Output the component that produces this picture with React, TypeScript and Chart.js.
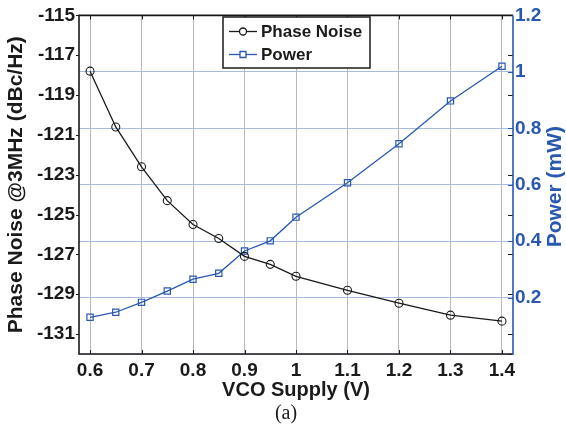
import React, { useEffect, useRef } from 'react';
import { Chart, registerables } from 'chart.js';

Chart.register(...registerables);

const supplyV = [0.6, 0.65, 0.7, 0.75, 0.8, 0.85, 0.9, 0.95, 1.0, 1.1, 1.2, 1.3, 1.4];
const phaseNoise = [-117.8, -120.6, -122.6, -124.3, -125.5, -126.2, -127.1, -127.5, -128.1, -128.8, -129.45, -130.05, -130.35];
const powerMW = [0.13, 0.148, 0.183, 0.223, 0.265, 0.286, 0.365, 0.401, 0.485, 0.607, 0.745, 0.897, 1.02];
const xTicks = [0.6, 0.7, 0.8, 0.9, 1.0, 1.1, 1.2, 1.3, 1.4];
const leftTicks = [-131, -129, -127, -125, -123, -121, -119, -117, -115];
const rightTicks = [0, 0.2, 0.4, 0.6, 0.8, 1.0, 1.2];
const rightTitle = 'Power (mW)';

const BLUE = '#2958b0';
const BLACK = '#1a1a1a';
const SANS = '"Liberation Sans", Arial, sans-serif';

const boxPlugin = {
  id: 'matlabBox',
  afterDraw(chart: any) {
    const { ctx, chartArea, scales } = chart;
    const { left, right, top, bottom } = chartArea;
    const line = (x1: number, y1: number, x2: number, y2: number) => {
      ctx.beginPath();
      ctx.moveTo(x1, y1);
      ctx.lineTo(x2, y2);
      ctx.stroke();
    };
    ctx.save();
    ctx.lineWidth = 1;
    ctx.strokeStyle = BLACK;
    xTicks.forEach((v) => {
      const px = Math.round(scales.x.getPixelForValue(v)) + 0.5;
      line(px, bottom, px, bottom - 4);
      line(px, top, px, top + 4);
    });
    leftTicks.forEach((v) => {
      const py = Math.round(scales.y.getPixelForValue(v)) + 0.5;
      line(left - 3, py, left, py);
      line(right - 5, py, right, py);
    });
    ctx.strokeStyle = BLUE;
    rightTicks.forEach((v) => {
      const py = Math.round(scales.y1.getPixelForValue(v)) + 0.5;
      line(right - 5, py, right, py);
    });
    // box
    ctx.lineWidth = 1.6;
    ctx.strokeStyle = BLACK;
    ctx.beginPath();
    ctx.moveTo(right, top);
    ctx.lineTo(left, top);
    ctx.lineTo(left, bottom);
    ctx.lineTo(right, bottom);
    ctx.stroke();
    ctx.strokeStyle = BLUE;
    line(right, top, right, bottom + 0.8);

    // right axis title (reads bottom-to-top)
    ctx.save();
    ctx.translate(555, (top + bottom) / 2 + 2);
    ctx.rotate(-Math.PI / 2);
    ctx.fillStyle = BLUE;
    ctx.font = `bold 21px ${SANS}`;
    ctx.textAlign = 'center';
    ctx.textBaseline = 'middle';
    ctx.fillText(rightTitle, 0, 0);
    ctx.restore();

    // legend
    const lx = 223, ly = 17, lw = 147, lh = 51;
    ctx.fillStyle = '#ffffff';
    ctx.fillRect(lx, ly, lw, lh);
    ctx.lineWidth = 1.5;
    ctx.strokeStyle = BLACK;
    ctx.strokeRect(lx, ly, lw, lh);
    const rows = [
      { label: 'Phase Noise', color: BLACK, y: 31.5, style: 'circle' },
      { label: 'Power', color: BLUE, y: 54.5, style: 'rect' },
    ];
    rows.forEach((r) => {
      ctx.strokeStyle = r.color;
      ctx.lineWidth = 1.3;
      line(229, r.y, 257, r.y);
      ctx.beginPath();
      if (r.style === 'circle') {
        ctx.arc(243, r.y, 3.5, 0, Math.PI * 2);
      } else {
        ctx.rect(240, r.y - 3, 6, 6);
      }
      ctx.fillStyle = '#ffffff';
      ctx.fill();
      ctx.stroke();
      ctx.fillStyle = BLACK;
      ctx.font = `bold 17px ${SANS}`;
      ctx.textAlign = 'left';
      ctx.textBaseline = 'middle';
      ctx.fillText(r.label, 261, r.y + 1);
    });

    // caption
    ctx.fillStyle = BLACK;
    ctx.font = `20px "Liberation Serif", "Times New Roman", serif`;
    ctx.textAlign = 'center';
    ctx.textBaseline = 'middle';
    ctx.fillText('(a)', 286, 414);
    ctx.restore();
  },
};

export default function App() {
  const ref = useRef<HTMLCanvasElement | null>(null);
  useEffect(() => {
    if (!ref.current) return;
    const chart = new Chart(ref.current, {
      type: 'line',
      data: {
        datasets: [
          {
            label: 'Phase Noise',
            data: supplyV.map((x, i) => ({ x, y: phaseNoise[i] })),
            yAxisID: 'y',
            borderColor: BLACK,
            borderWidth: 1.3,
            pointStyle: 'circle',
            pointRadius: 4,
            pointBorderWidth: 1.1,
            pointBorderColor: BLACK,
            pointBackgroundColor: 'rgba(0,0,0,0)',
            tension: 0,
          },
          {
            label: 'Power',
            data: supplyV.map((x, i) => ({ x, y: powerMW[i] })),
            yAxisID: 'y1',
            borderColor: BLUE,
            borderWidth: 1.3,
            pointStyle: 'rect',
            pointRadius: 4.4,
            pointBorderWidth: 1.2,
            pointBorderColor: BLUE,
            pointBackgroundColor: 'rgba(0,0,0,0)',
            tension: 0,
          },
        ],
      },
      options: {
        responsive: false,
        animation: false,
        devicePixelRatio: 1,
        layout: { padding: { top: 12, left: 0, right: 0, bottom: 0 } },
        plugins: { legend: { display: false }, tooltip: { enabled: false } },
        scales: {
          x: {
            type: 'linear',
            min: 0.5786,
            max: 1.4214,
            afterBuildTicks: (s: any) => {
              s.ticks = xTicks.map((v) => ({ value: v }));
            },
            afterFit: (s: any) => {
              s.height = 73;
            },
            grid: { color: '#b9b9b9', lineWidth: 1, drawTicks: false },
            border: { display: false },
            ticks: {
              padding: 5,
              color: BLACK,
              font: { family: SANS, size: 19, weight: 'bold' },
              maxRotation: 0,
              autoSkip: false,
              callback: (v: any) => String(Number(Number(v).toFixed(2))),
            },
            title: {
              display: true,
              text: 'VCO Supply (V)',
              color: BLACK,
              font: { family: SANS, size: 20, weight: 'bold' },
              padding: { top: 0, bottom: 25 },
            },
          },
          y: {
            type: 'linear',
            position: 'left',
            min: -132,
            max: -115,
            afterBuildTicks: (s: any) => {
              s.ticks = leftTicks.map((v) => ({ value: v }));
            },
            afterFit: (s: any) => {
              s.width = 79;
            },
            grid: { display: false, drawTicks: false },
            border: { display: false },
            ticks: {
              padding: 4,
              color: BLACK,
              font: { family: SANS, size: 19, weight: 'bold' },
              autoSkip: false,
              callback: (v: any) => String(v),
            },
            title: {
              display: true,
              text: 'Phase Noise @3MHz (dBc/Hz)',
              color: BLACK,
              font: { family: SANS, size: 21, weight: 'bold' },
              padding: { top: 4, bottom: 0 },
            },
          },
          y1: {
            type: 'linear',
            position: 'right',
            min: 0,
            max: 1.2,
            afterBuildTicks: (s: any) => {
              s.ticks = rightTicks.map((v) => ({ value: v }));
            },
            afterFit: (s: any) => {
              s.width = 53;
            },
            grid: { color: '#a7bbe0', lineWidth: 1, drawTicks: false, drawOnChartArea: true },
            border: { display: false },
            ticks: {
              padding: 2,
              color: BLUE,
              font: { family: SANS, size: 19, weight: 'bold' },
              autoSkip: false,
              callback: (v: any) => (v === 0 ? '' : String(Number(Number(v).toFixed(1)))),
            },
            title: { display: false },
          },
        },
      },
      plugins: [boxPlugin],
    } as any);
    return () => chart.destroy();
  }, []);
  return (
    <div style={{ position: 'absolute', left: 0, top: 0, width: 566, height: 427, background: '#fff' }}>
      <canvas ref={ref} width={566} height={427} />
    </div>
  );
}
